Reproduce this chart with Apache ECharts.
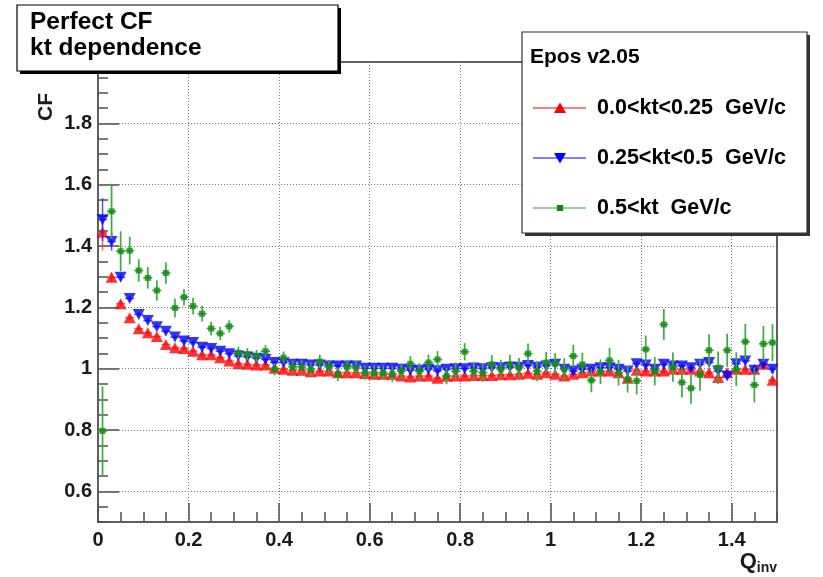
<!DOCTYPE html>
<html>
<head>
<meta charset="utf-8">
<script src="https://cdn.jsdelivr.net/npm/echarts@6/dist/echarts.min.js"></script>
<style>
html,body{margin:0;padding:0;background:#fff;}
#chart{width:823px;height:577px;}
</style>
</head>
<body>
<div id="chart"></div>
<script>
// ---- data ----
const qInv = [0.01,0.03,0.05,0.07,0.09,0.11,0.13,0.15,0.17,0.19,0.21,0.23,0.25,0.27,0.29,0.31,0.33,0.35,0.37,0.39,
  0.41,0.43,0.45,0.47,0.49,0.51,0.53,0.55,0.57,0.59,0.61,0.63,0.65,0.67,0.69,0.71,0.73,0.75,0.77,0.79,
  0.81,0.83,0.85,0.87,0.89,0.91,0.93,0.95,0.97,0.99,1.01,1.03,1.05,1.07,1.09,1.11,1.13,1.15,1.17,1.19,
  1.21,1.23,1.25,1.27,1.29,1.31,1.33,1.35,1.37,1.39,1.41,1.43,1.45,1.47,1.49];
const qHalfBin = 0.01;

const cfKtLow = [1.445,1.298,1.212,1.166,1.130,1.117,1.105,1.079,1.068,1.066,1.057,1.045,1.045,1.036,1.025,1.016,1.014,1.012,1.012,1.001,
  0.998,0.995,0.995,0.990,0.992,0.992,0.987,0.987,0.987,0.984,0.982,0.982,0.982,0.976,0.973,0.976,0.976,0.969,0.975,0.976,
  0.976,0.978,0.978,0.978,0.980,0.980,0.982,0.985,0.982,0.987,0.982,0.976,0.982,0.987,0.992,0.992,0.992,0.987,0.969,0.995,
  0.992,0.992,0.992,0.998,0.998,0.998,0.992,0.987,0.971,0.987,0.998,0.998,0.998,1.014,0.962];
const errKtLow = [0.06,0.015,0.01,0.008,0.007,0.007,0.006,0.006,0.006,0.006,0.006,0.006,0.006,0.006,0.006,0.006,0.006,0.006,0.006,0.006,
  0.006,0.006,0.006,0.006,0.006,0.006,0.006,0.006,0.006,0.006,0.006,0.006,0.006,0.006,0.006,0.006,0.006,0.006,0.006,0.006,
  0.007,0.007,0.007,0.007,0.007,0.007,0.007,0.007,0.007,0.007,0.008,0.008,0.008,0.008,0.008,0.008,0.008,0.008,0.008,0.008,
  0.009,0.009,0.009,0.009,0.009,0.009,0.009,0.009,0.01,0.01,0.01,0.01,0.01,0.012,0.012];

const cfKtMid = [1.486,1.415,1.298,1.229,1.177,1.157,1.137,1.122,1.103,1.090,1.085,1.070,1.066,1.057,1.049,1.041,1.038,1.034,1.030,1.020,
  1.020,1.014,1.014,1.012,1.012,1.009,1.009,1.009,1.009,1.001,1.001,1.001,1.001,0.998,0.995,0.995,0.998,0.993,0.998,1.000,
  1.000,1.002,1.000,1.003,1.003,1.005,1.005,1.010,1.005,1.009,1.014,0.998,0.992,0.998,0.998,1.003,1.003,0.998,0.992,1.016,
  1.012,0.998,1.014,1.009,1.009,1.003,1.014,1.020,0.992,0.976,1.016,1.025,0.995,1.014,0.998];
const errKtMid = [0.07,0.03,0.012,0.009,0.008,0.007,0.007,0.006,0.006,0.006,0.006,0.006,0.006,0.006,0.006,0.006,0.006,0.006,0.006,0.006,
  0.006,0.006,0.006,0.006,0.006,0.006,0.006,0.006,0.006,0.006,0.006,0.006,0.006,0.006,0.006,0.006,0.006,0.006,0.006,0.006,
  0.007,0.007,0.007,0.007,0.007,0.007,0.007,0.007,0.007,0.007,0.008,0.008,0.008,0.008,0.008,0.008,0.008,0.008,0.008,0.008,
  0.009,0.009,0.009,0.009,0.009,0.009,0.009,0.009,0.01,0.01,0.01,0.01,0.01,0.012,0.012];

const cfKtHigh = [0.797,1.513,1.383,1.385,1.320,1.296,1.255,1.312,1.198,1.233,1.204,1.179,1.131,1.115,1.138,1.052,1.047,1.041,1.057,0.998,
  1.036,1.006,1.006,0.998,1.023,1.006,0.982,1.006,1.003,0.987,0.987,0.987,0.982,0.992,1.016,0.992,1.020,1.030,0.976,0.992,
  1.055,0.992,0.987,1.014,0.998,1.014,1.003,1.049,0.992,1.020,1.016,0.998,1.041,1.014,0.962,0.990,1.027,0.987,0.965,0.960,
  1.063,0.992,1.144,1.005,0.955,0.936,0.979,1.060,1.003,1.060,0.998,1.088,0.947,1.081,1.085];
const errKtHigh = [0.145,0.09,0.065,0.045,0.037,0.035,0.033,0.035,0.03,0.027,0.027,0.025,0.022,0.022,0.02,0.02,0.02,0.02,0.02,0.02,
  0.02,0.021,0.021,0.022,0.022,0.022,0.022,0.023,0.023,0.023,0.024,0.024,0.025,0.025,0.025,0.026,0.026,0.027,0.027,0.028,
  0.028,0.029,0.03,0.03,0.031,0.031,0.032,0.033,0.033,0.034,0.035,0.036,0.037,0.038,0.039,0.04,0.041,0.042,0.043,0.044,
  0.045,0.046,0.05,0.048,0.049,0.05,0.051,0.052,0.053,0.054,0.055,0.058,0.057,0.058,0.06];

const xTickLabels = [0,0.2,0.4,0.6,0.8,1,1.2,1.4];
const yTickLabels = [0.6,0.8,1,1.2,1.4,1.6,1.8];

const seriesNames = ['0.0<kt<0.25  GeV/c','0.25<kt<0.5  GeV/c','0.5<kt  GeV/c'];
const legendTitle = 'Epos v2.05';
const titleLines = ['Perfect CF','kt dependence'];

// ---- build ----
const FONT = '"Liberation Sans", Arial, Helvetica, sans-serif';
function pts(vals, errs){ return qInv.map((q,i)=>[q, vals[i], errs[i]]); }

function errRender(color, width){
  return function(params, api){
    const x = api.value(0), y = api.value(1), e = api.value(2);
    const t = api.coord([x, y+e]), b = api.coord([x, y-e]);
    const l = api.coord([x-qHalfBin, y]), r = api.coord([x+qHalfBin, y]);
    return {type:'group', children:[
      {type:'line', shape:{x1:t[0],y1:t[1],x2:b[0],y2:b[1]}, style:{stroke:color, lineWidth:width}},
      {type:'line', shape:{x1:l[0],y1:l[1],x2:r[0],y2:r[1]}, style:{stroke:color, lineWidth:width}}
    ]};
  };
}

const RED='#ff0000', BLUE='#0000ff', GREEN='#118a11', GREENBAR='#3aac3a';

const chart = echarts.init(document.getElementById('chart'));
const gridDots = {show:true, lineStyle:{color:'#7a7a7a', width:1, type:[1,2]}};
const labelStyle = {fontFamily:FONT, fontWeight:'bold', fontSize:20, color:'#1a1a1a'};

const option = {
  animation:false,
  backgroundColor:'#ffffff',
  grid:{left:98, right:46, top:62, bottom:55, show:true, borderColor:'#606060', borderWidth:2, backgroundColor:'transparent'},
  xAxis:[
    {type:'value', min:0, max:1.5, position:'bottom',
     axisLine:{show:true, onZero:false, lineStyle:{color:'#606060', width:2}},
     axisTick:{show:true, inside:true, length:19, customValues:xTickLabels, lineStyle:{color:'#505050', width:1.5}},
     axisLabel:Object.assign({customValues:xTickLabels, margin:8, formatter:v=>String(parseFloat(v.toFixed(2)))}, labelStyle),
     splitLine:gridDots},
    {type:'value', min:0, max:1.5, interval:0.05, position:'bottom',
     axisLine:{show:false}, axisLabel:{show:false}, splitLine:{show:false},
     axisTick:{show:true, inside:true, length:10, lineStyle:{color:'#505050', width:1.5}}}
  ],
  yAxis:[
    {type:'value', min:0.5, max:2.0, position:'left',
     axisLine:{show:true, onZero:false, lineStyle:{color:'#606060', width:2}},
     axisTick:{show:true, inside:true, length:21, customValues:yTickLabels, lineStyle:{color:'#505050', width:1.5}},
     axisLabel:Object.assign({customValues:yTickLabels, margin:6, formatter:v=>String(parseFloat(v.toFixed(2)))}, labelStyle),
     splitLine:gridDots},
    {type:'value', min:0.5, max:2.0, interval:0.05, position:'left',
     axisLine:{show:false}, axisLabel:{show:false}, splitLine:{show:false},
     axisTick:{show:true, inside:true, length:10, lineStyle:{color:'#505050', width:1.5}}}
  ],
  series:[
    {type:'custom', name:seriesNames[0]+' err', xAxisIndex:0, yAxisIndex:0, renderItem:errRender('rgba(255,60,60,0.8)',1.5), data:pts(cfKtLow, errKtLow), z:2},
    {type:'scatter', name:seriesNames[0], xAxisIndex:0, yAxisIndex:0, symbol:'triangle', symbolSize:[12,11], itemStyle:{color:RED}, data:pts(cfKtLow, errKtLow), z:3},
    {type:'custom', name:seriesNames[1]+' err', xAxisIndex:0, yAxisIndex:0, renderItem:errRender('rgba(40,40,255,0.8)',1.5), data:pts(cfKtMid, errKtMid), z:4},
    {type:'scatter', name:seriesNames[1], xAxisIndex:0, yAxisIndex:0, symbol:'triangle', symbolRotate:180, symbolSize:[12,11], itemStyle:{color:BLUE}, data:pts(cfKtMid, errKtMid), z:5},
    {type:'custom', name:seriesNames[2]+' err', xAxisIndex:0, yAxisIndex:0, renderItem:errRender(GREENBAR,1.7), data:pts(cfKtHigh, errKtHigh), z:6},
    {type:'scatter', name:seriesNames[2], xAxisIndex:0, yAxisIndex:0, symbol:'rect', symbolSize:6, itemStyle:{color:GREEN}, data:pts(cfKtHigh, errKtHigh), z:7}
  ],
  graphic:[
    // axis titles
    {type:'text', x:36, y:121, rotation:Math.PI/2, z:50,
     style:{text:'CF', font:'bold 21px '+FONT, fill:'#1a1a1a', textAlign:'left', textVerticalAlign:'top'}},
    {type:'text', x:777, y:551, z:50,
     style:{text:'{q|Q}{s|inv}', textAlign:'right', textVerticalAlign:'top',
       rich:{q:{font:'bold 22px '+FONT, fill:'#1a1a1a', verticalAlign:'top'}, s:{font:'bold 14px '+FONT, fill:'#1a1a1a', padding:[10,0,0,0]}}}},
    // title pave
    {type:'rect', z:60, shape:{x:20, y:8, width:321, height:66}, style:{fill:'#000'}},
    {type:'rect', z:61, shape:{x:17, y:5, width:321, height:66}, style:{fill:'#fff', stroke:'#000', lineWidth:1.2}},
    {type:'text', z:62, x:30, y:22, style:{text:titleLines[0], font:'bold 24.5px '+FONT, fill:'#000', textVerticalAlign:'middle'}},
    {type:'text', z:62, x:30, y:48, style:{text:titleLines[1], font:'bold 24.5px '+FONT, fill:'#000', textVerticalAlign:'middle'}},
    // legend pave
    {type:'rect', z:60, shape:{x:525, y:35, width:285, height:201}, style:{fill:'#333'}},
    {type:'rect', z:61, shape:{x:522, y:32, width:285, height:201}, style:{fill:'#fff', stroke:'#333', lineWidth:1.2}},
    {type:'text', z:62, x:530, y:57, style:{text:legendTitle, font:'bold 21px '+FONT, fill:'#000', textVerticalAlign:'middle'}},
    {type:'line', z:62, shape:{x1:533, y1:108, x2:586, y2:108}, style:{stroke:RED, lineWidth:1.2}},
    {type:'polygon', z:63, shape:{points:[[560,102.5],[566,113],[554,113]]}, style:{fill:RED}},
    {type:'text', z:62, x:597, y:108, style:{text:seriesNames[0], font:'bold 21.5px '+FONT, fill:'#000', textVerticalAlign:'middle'}},
    {type:'line', z:62, shape:{x1:533, y1:158, x2:586, y2:158}, style:{stroke:BLUE, lineWidth:1.2}},
    {type:'polygon', z:63, shape:{points:[[554,153],[566,153],[560,163.5]]}, style:{fill:BLUE}},
    {type:'text', z:62, x:597, y:158, style:{text:seriesNames[1], font:'bold 21.5px '+FONT, fill:'#000', textVerticalAlign:'middle'}},
    {type:'line', z:62, shape:{x1:533, y1:208, x2:586, y2:208}, style:{stroke:'#22aa22', lineWidth:1.2}},
    {type:'rect', z:63, shape:{x:557, y:205, width:6, height:6}, style:{fill:GREEN}},
    {type:'text', z:62, x:597, y:208, style:{text:seriesNames[2], font:'bold 21.5px '+FONT, fill:'#000', textVerticalAlign:'middle'}}
  ]
};
chart.setOption(option);
</script>
</body>
</html>
